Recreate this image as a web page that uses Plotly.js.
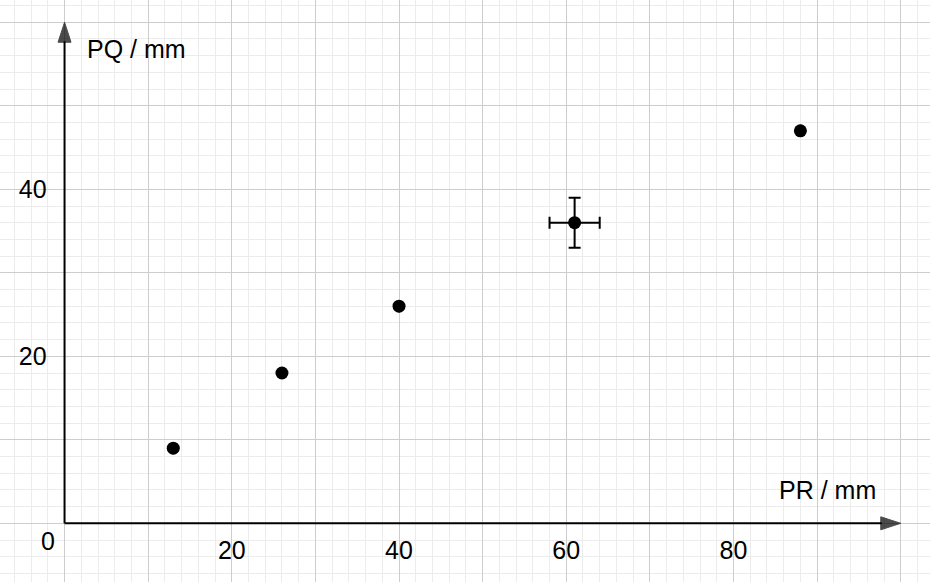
<!DOCTYPE html>
<html>
<head>
<meta charset="utf-8">
<script src="https://cdn.plot.ly/plotly-3.0.1.min.js"></script>
<style>html,body{margin:0;padding:0;background:#fff;}#chart{width:930px;height:582px;}</style>
</head>
<body>
<div id="chart"></div>
<script>
// Data
var prValues = [13, 26, 40, 61, 88];      // PR / mm
var pqValues = [9, 18, 26, 36, 47];       // PQ / mm
var prErrors = [0, 0, 0, 3, 0];
var pqErrors = [0, 0, 0, 3, 0];

// Axis extents (arrows) and tick labels
var xAxisEnd = 100;
var yAxisEnd = 60;
var gridTicks = [0, 10, 20, 30, 40, 50, 60, 70, 80, 90, 100];
var xTickText = ['', '', '20', '', '40', '', '60', '', '80', '', ''];
var yTickText = ['', '', '20', '', '40', '', '', '', '', '', ''];
var xTitle = 'PR / mm';
var yTitle = 'PQ / mm';
var originLabel = '0';

var font = {family: '"Liberation Sans", Arial, Helvetica, sans-serif', size: 25, color: '#000'};
var xr = [-7.72, 103.5], yr = [-7.03, 62.67];
var yZeroFrac = (0 - yr[0]) / (yr[1] - yr[0]);
var xZeroFrac = (0 - xr[0]) / (xr[1] - xr[0]);

var arrowMarker = {symbol: 'arrow', angleref: 'previous', size: [0, 21], color: '#000', line: {color: '#000', width: 1}};

var traces = [
  {
    x: [0, xAxisEnd], y: [0, 0], mode: 'lines+markers', type: 'scatter',
    line: {color: '#000', width: 2},
    marker: arrowMarker,
    hoverinfo: 'skip', showlegend: false, cliponaxis: false
  },
  {
    x: [0, 0], y: [0, yAxisEnd], mode: 'lines+markers', type: 'scatter',
    line: {color: '#000', width: 2},
    marker: arrowMarker,
    hoverinfo: 'skip', showlegend: false, cliponaxis: false
  },
  {
    x: prValues, y: pqValues, mode: 'markers', type: 'scatter',
    marker: {color: '#000', size: 13},
    error_x: {type: 'data', array: prErrors, visible: true, color: '#000', thickness: 2, width: 6},
    error_y: {type: 'data', array: pqErrors, visible: true, color: '#000', thickness: 2, width: 6},
    showlegend: false
  }
];

var layout = {
  width: 930, height: 582,
  margin: {l: 0, r: 0, t: 0, b: 0, pad: 0},
  paper_bgcolor: '#fff', plot_bgcolor: '#fff',
  showlegend: false,
  font: font,
  xaxis: {
    range: xr, anchor: 'free', position: yZeroFrac,
    tickmode: 'array', tickvals: gridTicks, ticktext: xTickText,
    ticks: '', ticklabelstandoff: 10, tickfont: font,
    showgrid: true, gridcolor: '#cdcdcd', gridwidth: 1,
    minor: {tickmode: 'linear', tick0: 0, dtick: 2, showgrid: true, gridcolor: '#ececec', gridwidth: 1},
    zeroline: false, showline: false, fixedrange: true
  },
  yaxis: {
    range: yr, anchor: 'free', position: xZeroFrac,
    tickmode: 'array', tickvals: gridTicks, ticktext: yTickText,
    ticks: '', ticklabelstandoff: 18, tickfont: font,
    showgrid: true, gridcolor: '#cdcdcd', gridwidth: 1,
    minor: {tickmode: 'linear', tick0: 0, dtick: 2, showgrid: true, gridcolor: '#ececec', gridwidth: 1},
    zeroline: false, showline: false, fixedrange: true
  },
  annotations: [
    {x: 2.5, y: 56.8, xref: 'x', yref: 'y', text: yTitle, showarrow: false, xanchor: 'left', yanchor: 'middle', font: font},
    {x: 85.2, y: 3.93, xref: 'x', yref: 'y', text: xTitle, showarrow: false, xanchor: 'left', yanchor: 'middle', font: font},
    {x: -1.97, y: -2.12, xref: 'x', yref: 'y', text: originLabel, showarrow: false, xanchor: 'center', yanchor: 'middle', font: font}
  ]
};

Plotly.newPlot('chart', traces, layout, {staticPlot: true, displayModeBar: false});
</script>
</body>
</html>
